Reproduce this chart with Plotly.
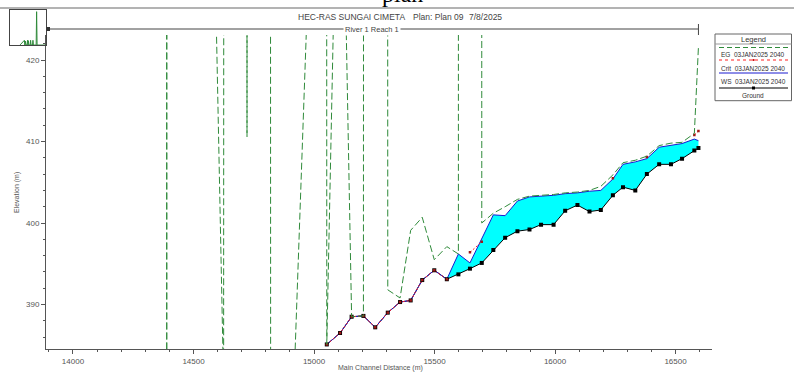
import plotly.graph_objects as go

# ---------------- data ----------------
# Cross sections with surveyed ground inside the plotted elevation window
station = [15053, 15108, 15156, 15205, 15254, 15306, 15357, 15401, 15449, 15499,
           15551, 15599, 15647, 15696, 15744, 15793, 15844, 15894, 15942, 15994,
           16042, 16093, 16143, 16190, 16240, 16282, 16333, 16381, 16432, 16481,
           16527, 16578, 16595]
ground = [385.1, 386.5, 388.5, 388.6, 387.2, 389.0, 390.3, 390.5, 393.0, 394.2,
          393.1, 393.7, 394.4, 395.1, 396.7, 398.2, 399.0, 399.2, 399.8, 399.8,
          401.5, 402.2, 401.4, 401.6, 403.4, 404.4, 404.0, 406.0, 407.2, 407.2,
          407.9, 408.9, 409.2]
ws = [385.1, 386.5, 388.5, 388.6, 387.2, 389.0, 390.3, 390.5, 393.0, 394.2,
      393.1, 396.2, 395.1, 398.0, 401.0, 400.9, 402.7, 403.2, 403.3, 403.4,
      403.6, 403.7, 403.9, 404.0, 405.4, 407.2, 407.5, 407.9, 409.3, 409.5,
      409.75, 410.3, 410.1]
crit = [385.1, 386.5, 388.5, 388.6, 387.2, 389.0, 390.3, 390.5, 393.0, 394.2,
        393.1, None, 396.4, 397.7, None, None, None, None, None, None,
        None, None, None, None, 405.5, None, None, 408.1, None, None,
        None, 410.8, 411.3]
eg = [385.1, 464.0, 388.5, 388.6, 6000.0, 391.8, 390.8, 399.1, 400.7, 395.5,
      397.1, 396.2, 40000.0, 400.0, 401.2, 402.0, 402.9, 403.3, 403.4, 403.5,
      403.7, 403.8, 404.0, 404.5, 405.9, 407.4, 407.7, 408.2, 409.5, 409.8,
      409.9, 411.0, 421.6]

# Upstream cross sections whose ground lies below the plotted window (EG only)
upper_station = [13880, 14339, 14389, 14439, 14500, 14575, 14625, 14675, 14722,
                 14775, 14820, 14870, 14920, 14970, 15003]
upper_eg = [480.0, 6000.0, 380.0, 5000.0, 470.0, 453.0, 380.0, 6000.0, 410.6,
            5500.0, 380.0, 375.0, 383.0, 425.0, 6000.0]

eg_station = upper_station + station
eg_all = upper_eg + eg

x_range = [13888, 16650]
y_range = [384.54, 423.07]
overview_x_range = [12800, 16650]
overview_y_range = [380, 42000]
legend_rows = ["EG  03JAN2025 2040", "Crit  03JAN2025 2040",
               "WS  03JAN2025 2040", "Ground"]

# ---------------- layout helpers ----------------
W, H = 794, 372
FONT = "Liberation Sans, Arial, sans-serif"
GREY = "#555555"
EG_GREEN = "#2f8a3a"
WS_BLUE = "#1a1ad0"
CRIT_RED = "#ff2020"


def px(x):
    return x / W


def py(y):
    return 1 - y / H


fig = go.Figure()

# water between ground and water surface
fig.add_trace(go.Scatter(x=station, y=ground, mode="lines",
                         line=dict(width=0, color="black"), hoverinfo="skip"))
fig.add_trace(go.Scatter(x=station, y=ws, mode="lines", fill="tonexty",
                         fillcolor="#00FFFF", line=dict(width=0, color=WS_BLUE)))
# ground line, then water surface line on top of it
fig.add_trace(go.Scatter(x=station, y=ground, mode="lines",
                         line=dict(color="black", width=1)))
fig.add_trace(go.Scatter(x=station, y=ws, mode="lines",
                         line=dict(color=WS_BLUE, width=1)))
fig.add_trace(go.Scatter(x=station, y=crit, mode="lines",
                         line=dict(color=CRIT_RED, width=1, dash="2px,2px"),
                         connectgaps=False))
fig.add_trace(go.Scatter(x=station, y=ground, mode="markers",
                         marker=dict(symbol="square", size=4, color="black")))
fig.add_trace(go.Scatter(x=station, y=crit, mode="markers",
                         marker=dict(symbol="square", size=2.5, color="#a01818")))
fig.add_trace(go.Scatter(x=eg_station, y=eg_all, mode="lines",
                         line=dict(color=EG_GREEN, width=1, dash="7px,3px",
                                   simplify=False)))

# overview inset
fig.add_trace(go.Scatter(x=eg_station, y=eg_all, mode="lines",
                         line=dict(color=EG_GREEN, width=1, simplify=False),
                         xaxis="x2", yaxis="y2"))

axis_common = dict(showgrid=False, zeroline=False, showline=True,
                   linecolor=GREY, linewidth=1, ticks="outside", ticklen=4,
                   tickcolor=GREY, tickfont=dict(family=FONT, size=8, color=GREY))

fig.update_layout(
    width=W, height=H,
    margin=dict(l=0, r=0, t=0, b=0),
    paper_bgcolor="white", plot_bgcolor="white",
    showlegend=False,
    xaxis=dict(domain=[px(46), px(711.7)], range=x_range, tick0=14000,
               dtick=500, tickformat="d", anchor="y",
               minor=dict(dtick=100, ticks="outside", ticklen=2, tickcolor=GREY),
               **axis_common),
    yaxis=dict(domain=[py(349), py(35)], range=y_range, tick0=390, dtick=10,
               anchor="x",
               minor=dict(dtick=2, ticks="outside", ticklen=2, tickcolor=GREY),
               **axis_common),
    xaxis2=dict(domain=[px(10), px(46)], range=overview_x_range, anchor="y2",
                showgrid=False, zeroline=False, showline=True, mirror=True,
                linecolor="#444", showticklabels=False, ticks=""),
    yaxis2=dict(domain=[py(45), py(10)], range=overview_y_range, anchor="x2",
                showgrid=False, zeroline=False, showline=True, mirror=True,
                linecolor="#444", showticklabels=False, ticks=""),
)

shapes = []
annotations = []

# window strip at the very top
shapes.append(dict(type="line", xref="paper", yref="paper", x0=0, x1=1,
                   y0=py(8), y1=py(8), line=dict(color="#9a9a9a", width=1.5)))
annotations.append(dict(text="plan", xref="paper", yref="paper", x=px(402),
                        y=py(9), xanchor="center", yanchor="bottom",
                        showarrow=False,
                        font=dict(family="Liberation Serif, serif", size=24,
                                  color="black")))

# title
for txt, x0 in [("HEC-RAS SUNGAI CIMETA", 296), ("Plan: Plan 09", 411),
                ("7/8/2025", 467)]:
    annotations.append(dict(text=txt, xref="paper", yref="paper", x=px(x0),
                            y=py(17), xanchor="left", yanchor="middle",
                            showarrow=False,
                            font=dict(family=FONT, size=8.5, color="#444")))

# reach bar
shapes.append(dict(type="line", xref="x", yref="paper", x0=x_range[0],
                   x1=station[-1], y0=py(29), y1=py(29),
                   line=dict(color="#444", width=1)))
shapes.append(dict(type="line", xref="x", yref="paper", x0=station[-1],
                   x1=station[-1], y0=py(24), y1=py(35),
                   line=dict(color="#444", width=1)))
shapes.append(dict(type="rect", xref="paper", yref="paper", x0=px(46.5),
                   x1=px(50), y0=py(31), y1=py(27), line=dict(width=0),
                   fillcolor="#333"))
annotations.append(dict(text="River 1 Reach 1", xref="paper", yref="paper",
                        x=px(371.5), y=py(29.5), xanchor="center",
                        yanchor="middle", showarrow=False, bgcolor="white",
                        borderpad=1,
                        font=dict(family=FONT, size=7.5, color="#444")))

# axis titles
annotations.append(dict(text="Elevation (m)", xref="paper", yref="paper",
                        x=px(17), y=py(193), textangle=-90, showarrow=False,
                        xanchor="center", yanchor="middle",
                        font=dict(family=FONT, size=7, color=GREY)))
annotations.append(dict(text="Main Channel Distance (m)", xref="paper",
                        yref="paper", x=px(380), y=py(368), showarrow=False,
                        xanchor="center", yanchor="middle",
                        font=dict(family=FONT, size=7, color=GREY)))

# legend box
lx0, lx1, ly0, ly1 = 715, 791.5, 34, 100.7
shapes.append(dict(type="rect", xref="paper", yref="paper", x0=px(lx0),
                   x1=px(lx1), y0=py(ly1), y1=py(ly0),
                   line=dict(color="#666", width=1), fillcolor="white"))
shapes.append(dict(type="line", xref="paper", yref="paper", x0=px(lx0),
                   x1=px(lx1), y0=py(44), y1=py(44),
                   line=dict(color="#999", width=1)))
annotations.append(dict(text="Legend", xref="paper", yref="paper",
                        x=px((lx0 + lx1) / 2), y=py(39.5), showarrow=False,
                        xanchor="center", yanchor="middle",
                        font=dict(family=FONT, size=7.5, color="#333")))
sample_y = [47.5, 60, 73, 88]
text_y = [54.5, 68, 81.5, 95]
sample_style = [dict(color=EG_GREEN, width=1, dash="5px,3px"),
                dict(color=CRIT_RED, width=1, dash="dot"),
                dict(color=WS_BLUE, width=1),
                dict(color="black", width=1)]
for sy, ty, style, label in zip(sample_y, text_y, sample_style, legend_rows):
    shapes.append(dict(type="line", xref="paper", yref="paper", x0=px(719),
                       x1=px(788), y0=py(sy), y1=py(sy), line=style))
    annotations.append(dict(text=label, xref="paper", yref="paper",
                            x=px((lx0 + lx1) / 2), y=py(ty), showarrow=False,
                            xanchor="center", yanchor="middle",
                            font=dict(family=FONT, size=6.5, color="#333")))
# markers on the crit and ground samples
shapes.append(dict(type="rect", xref="paper", yref="paper", x0=px(752.5),
                   x1=px(754.5), y0=py(61), y1=py(59), line=dict(width=0),
                   fillcolor="#d01010"))
shapes.append(dict(type="rect", xref="paper", yref="paper", x0=px(752),
                   x1=px(755), y0=py(89.5), y1=py(86.5), line=dict(width=0),
                   fillcolor="black"))

fig.update_layout(shapes=shapes, annotations=annotations)

fig.write_html("out.html")
